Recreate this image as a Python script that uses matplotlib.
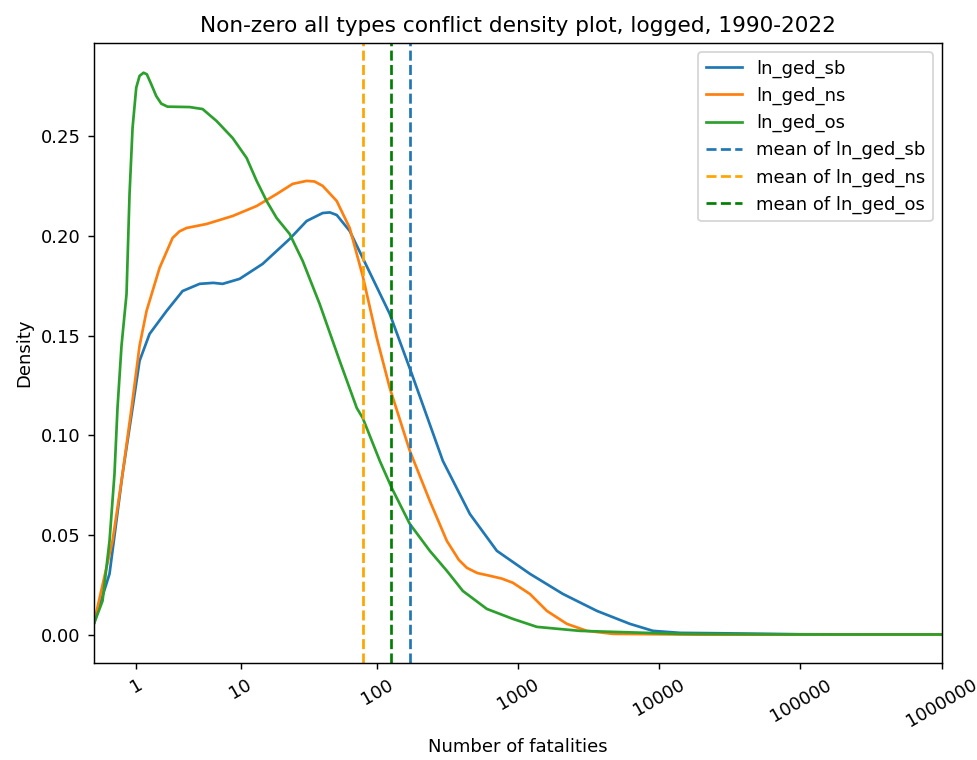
import numpy as np
import matplotlib
matplotlib.use("Agg")
import matplotlib.pyplot as plt

# x values are ln(1 + fatalities), y values are density
sb_x = [0.0, 0.261, 0.473, 0.636, 0.750, 0.913, 1.190, 1.451, 1.728, 1.95, 2.103, 2.380, 2.755,
        3.195, 3.472, 3.733, 3.85, 3.962, 4.173, 4.385, 4.826, 5.184, 5.690, 6.130, 6.570,
        7.108, 7.646, 8.200, 8.738, 9.113, 9.553, 10.21, 11.51, 13.816]
sb_y = [0.0050, 0.0306, 0.0807, 0.1137, 0.1373, 0.1508, 0.1623, 0.1723, 0.1759, 0.1764, 0.1759, 0.1784, 0.1859,
        0.1984, 0.2074, 0.2114, 0.2117, 0.2104, 0.2024, 0.1889, 0.1608, 0.1308, 0.0872, 0.0606, 0.0421,
        0.0306, 0.0205, 0.0120, 0.0055, 0.0020, 0.0010, 0.0008, 0.0003, 0.0001]

ns_x = [0.0, 0.310, 0.473, 0.620, 0.750, 0.864, 1.076, 1.288, 1.40, 1.516, 1.842, 2.266, 2.657,
        2.983, 3.244, 3.472, 3.60, 3.733, 3.962, 4.173, 4.385, 4.614, 4.826, 5.152, 5.478, 5.755,
        5.95, 6.081, 6.25, 6.456, 6.65, 6.831, 7.108, 7.385, 7.711, 8.037, 8.461, 9.88, 13.816]
ns_y = [0.0050, 0.0471, 0.0807, 0.1137, 0.1448, 0.1623, 0.1839, 0.1989, 0.2022, 0.2039, 0.2059, 0.2099, 0.2149,
        0.2209, 0.2260, 0.2275, 0.2272, 0.2250, 0.2174, 0.2039, 0.1799, 0.1488, 0.1237, 0.0922, 0.0671, 0.0471,
        0.0376, 0.0336, 0.0310, 0.0296, 0.0282, 0.0261, 0.0205, 0.0120, 0.0055, 0.0020, 0.0005, 0.0001, 0.0001]

os_x = [0.0, 0.147, 0.261, 0.342, 0.391, 0.456, 0.538, 0.587, 0.636, 0.696, 0.750, 0.815, 0.869,
        0.941, 1.022, 1.104, 1.206, 1.565, 1.777, 2.005, 2.266, 2.494, 2.657, 2.820, 2.983, 3.195, 3.407,
        3.684, 4.010, 4.288, 4.385, 4.663, 4.858, 5.152, 5.478, 5.755, 6.016, 6.407, 6.831,
        7.222, 7.923, 9.553, 11.51, 13.816]
os_y = [0.0050, 0.0170, 0.0471, 0.0807, 0.1137, 0.1448, 0.1708, 0.2209, 0.2540, 0.2742, 0.2801, 0.2817, 0.2809,
        0.2759, 0.2700, 0.2662, 0.2647, 0.2645, 0.2635, 0.2575, 0.2490, 0.2390, 0.2275, 0.2174, 0.2089, 0.2009, 0.1874,
        0.1658, 0.1373, 0.1137, 0.1087, 0.0872, 0.0736, 0.0556, 0.0421, 0.0321, 0.0220, 0.0130, 0.0080,
        0.0040, 0.0020, 0.0005, 0.0002, 0.0002]

means = {"ln_ged_sb": 5.163, "ln_ged_ns": 4.385, "ln_ged_os": 4.853}
mean_colors = {"ln_ged_sb": "tab:blue", "ln_ged_ns": "orange", "ln_ged_os": "green"}

tick_vals = [1, 10, 100, 1000, 10000, 100000, 1000000]

fig = plt.figure(figsize=(977 / 130, 760 / 130), dpi=130)
ax = fig.add_axes([93.5 / 977, 1 - 663 / 760, (941.7 - 93.5) / 977, (663 - 43) / 760])

ax.plot(sb_x, sb_y, label="ln_ged_sb")
ax.plot(ns_x, ns_y, label="ln_ged_ns")
ax.plot(os_x, os_y, label="ln_ged_os")

for name in ["ln_ged_sb", "ln_ged_ns", "ln_ged_os"]:
    ax.axvline(means[name], color=mean_colors[name], linestyle="--", label="mean of " + name)

ax.set_xticks(np.log1p(tick_vals))
ax.set_xticklabels([str(v) for v in tick_vals], rotation=30)
ax.set_xlim(0, np.log1p(1000000))
ax.set_ylim(-0.0141, 0.2966)

ax.set_title("Non-zero all types conflict density plot, logged, 1990-2022")
ax.set_xlabel("Number of fatalities")
ax.set_ylabel("Density")
ax.legend(loc="upper right")

fig.savefig("out.png", dpi=130)
